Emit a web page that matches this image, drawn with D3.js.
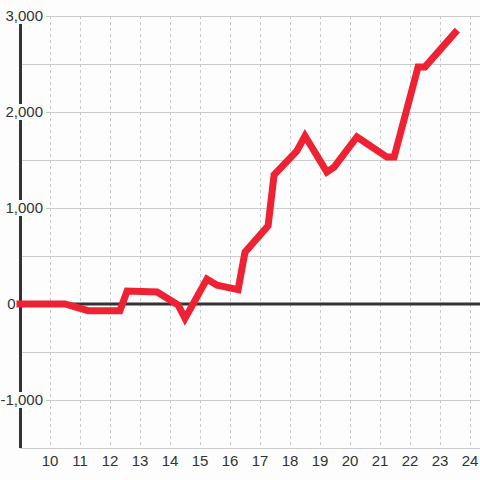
<!DOCTYPE html>
<html>
<head>
<meta charset="utf-8">
<script src="https://cdn.jsdelivr.net/npm/d3@7"></script>
<style>
  html, body { margin: 0; padding: 0; background: #fdfdfd; }
  svg { display: block; }
  text { font-family: "Liberation Sans", Arial, sans-serif; }
</style>
</head>
<body>
<svg id="chart" width="480" height="480"></svg>
<script>
// ---- data ----
const xValues = [9, 10.5, 11.27, 12.33, 12.57, 13.57, 14.27, 14.5, 15.23, 15.57, 16.27, 16.5, 17.27, 17.47, 18.23, 18.5, 19.23, 19.47, 20.23, 20.47, 21.23, 21.47, 22.27, 22.5, 23.5];
const yValues = [0, 0, -70, -70, 135, 125, -10, -150, 260, 195, 150, 540, 815, 1345, 1595, 1750, 1375, 1425, 1740, 1690, 1530, 1530, 2470, 2470, 2825];
const xTicks = [10, 11, 12, 13, 14, 15, 16, 17, 18, 19, 20, 21, 22, 23, 24];
const yGrid = [-1500, -1000, -500, 0, 500, 1000, 1500, 2000, 2500, 3000];
const yLabels = [3000, 2000, 1000, 0, -1000];

const W = 480, H = 480;
const svg = d3.select("#chart");
const x = d3.scaleLinear().domain([9, 24 + 1/3]).range([20, 480]);
const y = d3.scaleLinear().domain([-1500, 3000]).range([448, 16]);

svg.append("rect").attr("width", W).attr("height", H).attr("fill", "#fdfdfd");

// horizontal gridlines
svg.append("g").selectAll("line").data(yGrid).join("line")
  .attr("x1", 20).attr("x2", W)
  .attr("y1", d => y(d) + 0.5).attr("y2", d => y(d) + 0.5)
  .attr("stroke", "#cccccc").attr("stroke-width", 1);

// vertical dotted gridlines
svg.append("g").selectAll("line").data(xTicks).join("line")
  .attr("x1", d => x(d) + 0.5).attr("x2", d => x(d) + 0.5)
  .attr("y1", y(3000)).attr("y2", y(-1500))
  .attr("stroke", "#c8c8c8").attr("stroke-width", 1)
  .attr("stroke-dasharray", "3,3");

// zero line
svg.append("line")
  .attr("x1", 20).attr("x2", W)
  .attr("y1", y(0)).attr("y2", y(0))
  .attr("stroke", "#333").attr("stroke-width", 3);

// left axis line
svg.append("line")
  .attr("x1", 20.5).attr("x2", 20.5)
  .attr("y1", y(3000)).attr("y2", y(-1500))
  .attr("stroke", "#333").attr("stroke-width", 3);

// y labels with background (drawn above the axis, below the data line)
const fmt = d3.format(",");
const yl = svg.append("g");
yLabels.forEach(v => {
  const g = yl.append("g");
  const t = g.append("text")
    .attr("x", v === 0 ? 15.5 : 43).attr("y", y(v)).attr("dy", "0.36em")
    .attr("text-anchor", "end")
    .attr("font-size", 15).attr("fill", "#333")
    .text(fmt(v).replace("−", "-"));
  const bb = t.node().getBBox();
  g.insert("rect", "text")
    .attr("x", bb.x - 2).attr("y", y(v) - 8)
    .attr("width", bb.width + 5).attr("height", 16)
    .attr("fill", "#fdfdfd");
});

// data line
const pts = xValues.map((v, i) => [v, yValues[i]]);
svg.append("path")
  .datum(pts)
  .attr("d", d3.line().x(d => x(d[0])).y(d => y(d[1])))
  .attr("fill", "none")
  .attr("stroke", "#ee2233")
  .attr("stroke-width", 7)
  .attr("stroke-linecap", "square")
  .attr("stroke-linejoin", "miter");

// x labels
svg.append("g").selectAll("text").data(xTicks).join("text")
  .attr("x", d => x(d)).attr("y", 466)
  .attr("text-anchor", "middle")
  .attr("font-size", 15).attr("fill", "#333")
  .text(d => d);
</script>
</body>
</html>
